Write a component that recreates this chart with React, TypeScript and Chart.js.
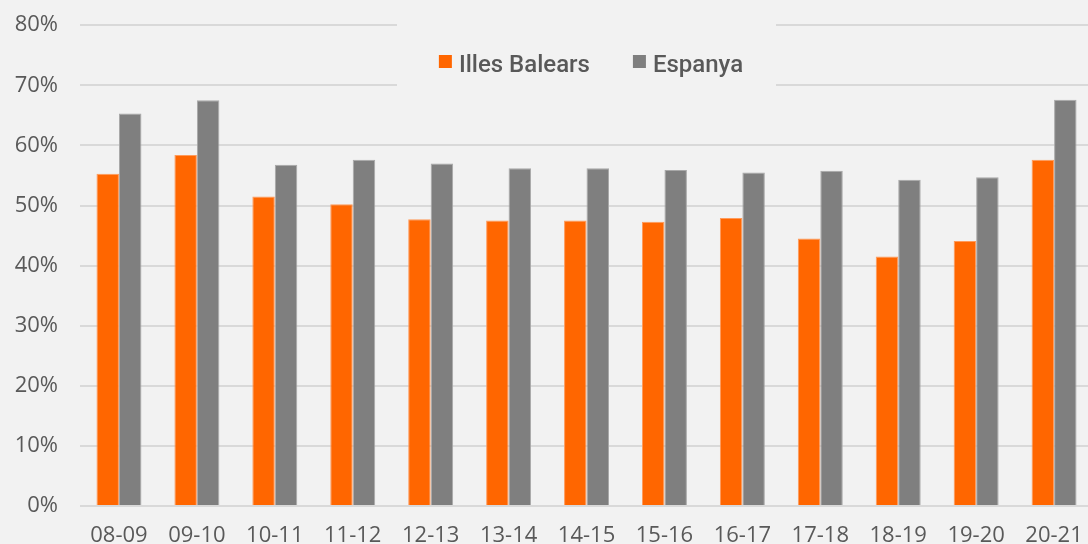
import React, { useEffect, useRef } from "react";
import { Chart, registerables } from "chart.js";

Chart.register(...registerables);

const categories = ["08-09", "09-10", "10-11", "11-12", "12-13", "13-14", "14-15", "15-16", "16-17", "17-18", "18-19", "19-20", "20-21"];
const illesBalears = [55.3, 58.4, 51.5, 50.2, 47.7, 47.5, 47.5, 47.3, 47.9, 44.5, 41.5, 44.1, 57.6];
const espanya = [65.3, 67.5, 56.8, 57.6, 57.0, 56.2, 56.2, 55.9, 55.5, 55.8, 54.3, 54.7, 67.6];
const seriesNames = ["Illes Balears", "Espanya"];
const yTicks = [0, 10, 20, 30, 40, 50, 60, 70, 80];

const BG = "#f2f2f2";
const TEXT = "#595959";
const SHIFT = 10;

const legendPlugin = {
  id: "customLegend",
  afterDatasetsDraw(chart: any) {
    const ctx = chart.ctx;
    ctx.save();
    ctx.fillStyle = BG;
    ctx.fillRect(397, 12 + SHIFT, 379, 84);
    ctx.font = "500 24px Roboto";
    ctx.textBaseline = "alphabetic";
    const box = 13;
    const gap = 7;
    const itemGap = 43;
    const items = chart.data.datasets.map((d: any) => ({
      label: d.label,
      color: d.backgroundColor,
      w: ctx.measureText(d.label).width,
    }));
    let total = 0;
    items.forEach((it: any, i: number) => {
      total += box + gap + it.w + (i > 0 ? itemGap : 0);
    });
    let x = 591 - total / 2;
    items.forEach((it: any) => {
      ctx.fillStyle = it.color;
      ctx.fillRect(x, 55 + SHIFT, box, box);
      ctx.fillStyle = TEXT;
      ctx.fillText(it.label, x + box + gap, 71.5 + SHIFT);
      x += box + gap + it.w + itemGap;
    });
    ctx.restore();
  },
};

export default function App() {
  const ref = useRef<HTMLCanvasElement | null>(null);
  useEffect(() => {
    if (!ref.current) return;
    const chart = new Chart(ref.current, {
      type: "bar",
      data: {
        labels: categories,
        datasets: [
          {
            label: seriesNames[0],
            data: illesBalears,
            backgroundColor: "#ff6600",
            borderColor: "#ff9a5a",
            borderWidth: 1,
            barPercentage: 1,
            categoryPercentage: 0.577,
          },
          {
            label: seriesNames[1],
            data: espanya,
            backgroundColor: "#7f7f7f",
            borderColor: "#a8a8a8",
            borderWidth: 1,
            barPercentage: 1,
            categoryPercentage: 0.577,
          },
        ],
      },
      options: {
        responsive: false,
        animation: false,
        maintainAspectRatio: false,
        layout: { padding: { top: 14, right: 6, left: 0, bottom: 0 } },
        plugins: {
          legend: { display: false },
          tooltip: { enabled: false },
        },
        scales: {
          x: {
            grid: { display: false, drawTicks: false },
            border: { display: false },
            ticks: {
              color: TEXT,
              font: { family: "Open Sans", size: 22, weight: "500" },
              padding: 17,
              maxRotation: 0,
              autoSkip: false,
            },
            afterFit: (s: any) => {
              s.height = 54;
            },
          },
          y: {
            min: 0,
            max: 80,
            afterBuildTicks: (s: any) => {
              s.ticks = yTicks.map((v) => ({ value: v }));
            },
            grid: { color: "#d9d9d9", lineWidth: 2, drawTicks: false },
            border: { display: false },
            ticks: {
              color: TEXT,
              font: { family: "Open Sans", size: 22, weight: "500" },
              padding: 22,
              callback: (v: any) => v + "%",
            },
            afterFit: (s: any) => {
              s.width = 80;
            },
          },
        },
      },
      plugins: [legendPlugin],
    });
    return () => chart.destroy();
  }, []);
  return (
    <div
      style={{
        position: "fixed",
        left: 0,
        top: 0,
        width: 1088,
        height: 544,
        overflow: "hidden",
        background: BG,
      }}
    >
      <canvas
        ref={ref}
        width={1100}
        height={570}
        style={{ display: "block", marginTop: -SHIFT }}
      />
    </div>
  );
}
